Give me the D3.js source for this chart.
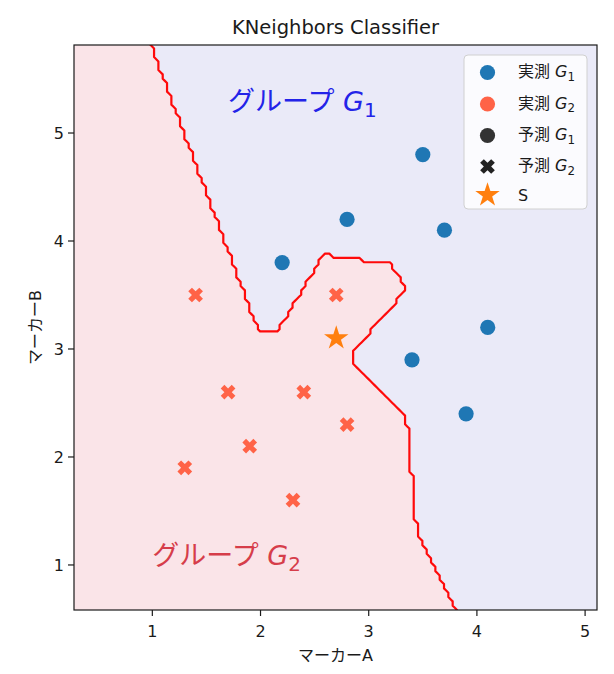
<!DOCTYPE HTML>
<html>
<head>
    <meta charset="utf-8">
    <title>KNeighbors Classifier</title>
    <script src="https://cdn.jsdelivr.net/npm/d3@7"></script>
    <style>
        body { margin: 0; background: white; }
        text { font-family: "DejaVu Sans", "Noto Sans CJK JP", sans-serif; fill: #1a1a1a; }
    </style>
</head>
<body>
    <div id="panel"></div>

    <script>
        var g1_x = [2.2, 2.8, 3.5, 3.7, 3.4, 4.1, 3.9];
        var g1_y = [3.8, 4.2, 4.8, 4.1, 2.9, 3.2, 2.4];
        var g2_x = [1.4, 2.7, 1.7, 2.4, 1.9, 2.8, 1.3, 2.3];
        var g2_y = [3.5, 3.5, 2.6, 2.6, 2.1, 2.3, 1.9, 1.6];
        // new sample S
        var s_point = [2.7, 3.1];

        var x_ticks = [1, 2, 3, 4, 5];
        var y_ticks = [1, 2, 3, 4, 5];
        var x_lim = [0.276, 5.11];
        var y_lim = [0.583, 5.815];

        var legend_kinds = ["実測", "実測", "予測", "予測"];
        var legend_subs = ["1", "2", "1", "2"];

        var k_neighbors = 1;
        var mesh_step = 0.04;
    </script>

    <script>
        var width = 614, height = 674;
        var ax = {left: 74, right: 597, top: 45, bottom: 610};
        var col_g1 = "#1f77b4", col_g2 = "#ff6347", col_s = "#ff7f0e";
        var bg_g1 = "#eaeaf8", bg_g2 = "#fae4e8";

        var svg = d3.select("#panel").append("svg")
                    .attr("width", width)
                    .attr("height", height);

        var x = d3.scaleLinear().domain(x_lim).range([ax.left, ax.right]);
        var y = d3.scaleLinear().domain(y_lim).range([ax.bottom, ax.top]);

        var train = [];
        g1_x.forEach(function(v, i) { train.push({x: v, y: g1_y[i], g: 1}); });
        g2_x.forEach(function(v, i) { train.push({x: v, y: g2_y[i], g: 2}); });

        // k nearest neighbours vote, returns 1 when the point falls in G2
        function predict_g2(px, py)
        {
            var d = train.map(function(p) {
                return {d: (p.x - px) * (p.x - px) + (p.y - py) * (p.y - py), g: p.g};
            });
            d.sort(function(a, b) { return a.d - b.d; });
            var votes = 0;
            for(var i = 0; i < k_neighbors; ++i)
                if(d[i].g == 2) votes++;
            return votes * 2 > k_neighbors ? 1 : 0;
        }

        svg.append("clipPath").attr("id", "ax-clip")
            .append("rect")
            .attr("x", ax.left).attr("y", ax.top)
            .attr("width", ax.right - ax.left).attr("height", ax.bottom - ax.top);

        var plot = svg.append("g").attr("clip-path", "url(#ax-clip)");

        plot.append("rect")
            .attr("x", ax.left).attr("y", ax.top)
            .attr("width", ax.right - ax.left).attr("height", ax.bottom - ax.top)
            .attr("fill", bg_g1);

        // decision region on a mesh a little larger than the axes
        var gx0 = x_lim[0] - 2 * mesh_step, gy0 = y_lim[0] - 2 * mesh_step;
        var nx = Math.ceil((x_lim[1] - x_lim[0]) / mesh_step) + 5;
        var ny = Math.ceil((y_lim[1] - y_lim[0]) / mesh_step) + 5;
        var mesh = new Array(nx * ny);
        for(var j = 0; j < ny; ++j)
            for(var i = 0; i < nx; ++i)
                mesh[j * nx + i] = predict_g2(gx0 + i * mesh_step, gy0 + j * mesh_step);

        var region = d3.contours().size([nx, ny]).thresholds([0.5])(mesh);
        var to_screen = d3.geoTransform({
            point: function(cx, cy) {
                this.stream.point(x(gx0 + (cx - 0.5) * mesh_step), y(gy0 + (cy - 0.5) * mesh_step));
            }
        });
        var path = d3.geoPath(to_screen);

        plot.selectAll("path.region").data(region).enter().append("path")
            .attr("class", "region")
            .attr("d", path)
            .attr("fill", bg_g2)
            .attr("stroke", "#ff0a0a")
            .attr("stroke-width", 2.2)
            .attr("stroke-linejoin", "round");

        // axes frame, ticks, labels
        svg.append("rect")
            .attr("x", ax.left).attr("y", ax.top)
            .attr("width", ax.right - ax.left).attr("height", ax.bottom - ax.top)
            .attr("fill", "none").attr("stroke", "#1a1a1a").attr("stroke-width", 1.2);

        var xt = svg.append("g").selectAll("g").data(x_ticks).enter().append("g");
        xt.append("line")
            .attr("x1", function(d) { return x(d); }).attr("x2", function(d) { return x(d); })
            .attr("y1", ax.bottom).attr("y2", ax.bottom + 6)
            .attr("stroke", "#1a1a1a").attr("stroke-width", 1.2);
        xt.append("text")
            .attr("x", function(d) { return x(d); }).attr("y", ax.bottom + 27)
            .attr("text-anchor", "middle").attr("font-size", 16)
            .text(function(d) { return d; });

        var yt = svg.append("g").selectAll("g").data(y_ticks).enter().append("g");
        yt.append("line")
            .attr("y1", function(d) { return y(d); }).attr("y2", function(d) { return y(d); })
            .attr("x1", ax.left - 6).attr("x2", ax.left)
            .attr("stroke", "#1a1a1a").attr("stroke-width", 1.2);
        yt.append("text")
            .attr("x", ax.left - 10).attr("y", function(d) { return y(d); })
            .attr("dy", "0.36em")
            .attr("text-anchor", "end").attr("font-size", 16)
            .text(function(d) { return d; });

        svg.append("text")
            .attr("x", (ax.left + ax.right) / 2).attr("y", 661)
            .attr("text-anchor", "middle").attr("font-size", 16)
            .text("マーカーA");
        svg.append("text")
            .attr("transform", "translate(41," + (ax.top + ax.bottom) / 2 + ") rotate(-90)")
            .attr("text-anchor", "middle").attr("font-size", 16)
            .text("マーカーB");
        svg.append("text")
            .attr("x", (ax.left + ax.right) / 2).attr("y", 34)
            .attr("text-anchor", "middle").attr("font-size", 19.5)
            .text("KNeighbors Classifier");

        // "グループ G_n" style label
        function group_text(sel, prefix, sub, size)
        {
            sel.append("tspan").text(prefix);
            sel.append("tspan").attr("font-style", "italic").text("G");
            sel.append("tspan").attr("font-size", size * 0.74).attr("dy", size * 0.22).text(sub);
        }

        var t1 = svg.append("text").attr("x", x(1.7)).attr("y", y(5.2))
                    .attr("font-size", 27).style("fill", "#2323e8");
        group_text(t1, "グループ ", "1", 27);
        var t2 = svg.append("text").attr("x", x(1.0)).attr("y", y(1.0))
                    .attr("font-size", 27).style("fill", "#d63d4a");
        group_text(t2, "グループ ", "2", 27);

        // points: colour = actual group, marker = predicted group
        var cross = d3.symbol().type(d3.symbolCross).size(135);
        var star = d3.symbol().type(d3.symbolStar).size(185);

        svg.selectAll("circle.g1").data(g1_x).enter().append("circle")
            .attr("class", "g1")
            .attr("cx", function(d) { return x(d); })
            .attr("cy", function(d, i) { return y(g1_y[i]); })
            .attr("r", 7.6)
            .attr("fill", col_g1);

        svg.selectAll("path.g2").data(g2_x).enter().append("path")
            .attr("class", "g2")
            .attr("d", cross)
            .attr("transform", function(d, i) {
                return "translate(" + x(d) + "," + y(g2_y[i]) + ") rotate(45)";
            })
            .attr("fill", col_g2);

        svg.append("path")
            .attr("d", star)
            .attr("transform", "translate(" + x(s_point[0]) + "," + y(s_point[1]) + ")")
            .attr("fill", col_s);

        // legend
        var lg = svg.append("g");
        lg.append("rect")
            .attr("x", 464).attr("y", 55).attr("width", 123).attr("height", 154)
            .attr("rx", 4)
            .attr("fill", "white").attr("fill-opacity", 0.8)
            .attr("stroke", "#d0d0d0").attr("stroke-width", 1);

        var row_y = [72.5, 104, 135.5, 166.5, 195];
        var mx = 487.5, tx = 518;
        lg.append("circle").attr("cx", mx).attr("cy", row_y[0]).attr("r", 7.6).attr("fill", col_g1);
        lg.append("circle").attr("cx", mx).attr("cy", row_y[1]).attr("r", 7.6).attr("fill", col_g2);
        lg.append("circle").attr("cx", mx).attr("cy", row_y[2]).attr("r", 7.6).attr("fill", "#333333");
        lg.append("path").attr("d", cross)
            .attr("transform", "translate(" + mx + "," + row_y[3] + ") rotate(45)")
            .attr("fill", "#222222");
        lg.append("path").attr("d", star)
            .attr("transform", "translate(" + mx + "," + row_y[4] + ")")
            .attr("fill", col_s);

        legend_kinds.forEach(function(kind, i) {
            var t = lg.append("text").attr("x", tx).attr("y", row_y[i]).attr("dy", "0.3em")
                      .attr("font-size", 16);
            group_text(t, kind + " ", legend_subs[i], 16);
        });
        lg.append("text").attr("x", tx).attr("y", row_y[4]).attr("dy", "0.35em")
            .attr("font-size", 16).text("S");
    </script>
</body>
</html>
